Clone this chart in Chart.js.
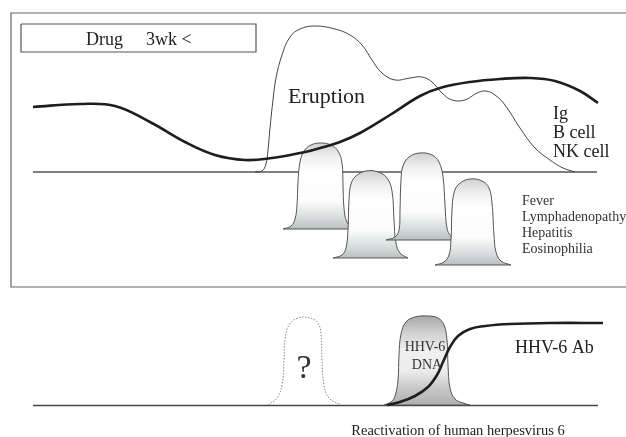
<!DOCTYPE html>
<html><head><meta charset="utf-8">
<script src="https://cdn.jsdelivr.net/npm/chart.js@4/dist/chart.umd.min.js"></script>
<style>html,body{margin:0;padding:0;background:#fff;overflow:hidden}canvas{display:block}</style>
</head><body>
<canvas id="c" width="626" height="437"></canvas>
<script>
// time (x) and level (y, measured downward on a 0..437 scale) for each schematic course
const frameLine = [[626,13],[11,13],[11,287],[626,287]];
const drugBox = [[21,24],[256,24],[256,52],[21,52],[21,24]];
const upperBaseline = [[33,172],[597,172]];
const lowerBaseline = [[33,405.5],[598,405.5]];
const igBcellNk = [[33,107],[80,104],[115,106],[150,122],[185,142],[215,155],[245,160],[272,158],[300,153],[320,148],[340,142],[360,133],[390,115],[420,96],[440,88],[470,82],[500,79],[530,78],[555,81],[580,91],[598,103]];
const eruption = [[255,172],[262,171],[266,164],[268,150],[270,128],[273,100],[276,78],[282,55],[290,37],[300,29],[315,26],[335,29],[350,35],[362,45],[372,60],[382,73],[395,80],[410,78],[422,77],[432,82],[442,93],[452,100],[465,100],[477,93],[486,91],[495,95],[505,105],[520,128],[535,148],[550,160],[563,168],[575,172]];
const symptomA = [[283,229],[291,226],[295,219],[297,205],[298,182],[300,162],[304,151],[311,145],[321,143],[331,145],[338,151],[342,163],[343,185],[344,208],[347,222],[354,228],[362,229]];
const symptomB = [[333,258],[342,255],[346,248],[348,230],[349,200],[351,184],[356,176],[366,171],[378,172],[387,178],[392,191],[394,220],[396,243],[400,253],[408,258]];
const symptomC = [[386,240],[395,237],[399,230],[400,210],[401,180],[403,166],[409,157],[420,153],[432,155],[439,162],[443,177],[445,205],[447,228],[451,236],[460,240]];
const symptomD = [[435,265],[444,262],[449,255],[451,240],[452,210],[454,193],[459,184],[470,179],[482,181],[489,188],[492,203],[494,235],[496,252],[501,261],[511,265]];
const unknownPeak = [[268,405],[277,398],[282,385],[284,360],[285,340],[289,325],[298,318],[310,318],[318,323],[321,335],[322,360],[324,385],[329,398],[341,405]];
const hhv6Dna = [[384,405],[391,402],[395,396],[398,380],[399,355],[401,334],[406,322],[415,317],[428,316],[438,318],[444,325],[447,340],[448,365],[450,388],[455,399],[463,403],[470,405]];
const hhv6Ab = [[387,405],[400,402],[415,396],[428,387],[437,375],[443,362],[450,347],[458,336],[470,329],[485,326],[510,324],[550,323],[603,323]];

const annotations = [
  {text:'Drug', x:86, y:45, size:18},
  {text:'3wk <', x:146, y:45, size:18},
  {text:'Eruption', x:288, y:103, size:22},
  {text:'Ig', x:553, y:119, size:18},
  {text:'B cell', x:553, y:138, size:18},
  {text:'NK cell', x:553, y:157, size:18},
  {text:'Fever', x:522, y:205, size:14, color:'#333'},
  {text:'Lymphadenopathy', x:522, y:221, size:14, color:'#333'},
  {text:'Hepatitis', x:522, y:237, size:14, color:'#333'},
  {text:'Eosinophilia', x:522, y:253, size:14, color:'#333'},
  {text:'?', x:304, y:378, size:34, align:'center', color:'#333'},
  {text:'HHV-6', x:425, y:351, size:14, align:'center', color:'#333'},
  {text:'DNA', x:427, y:369, size:14, align:'center', color:'#333'},
  {text:'HHV-6 Ab', x:515, y:353, size:18},
  {text:'Reactivation of human herpesvirus 6', x:458, y:435, size:14.5, align:'center'}
];

const toXY = a => a.map(([x,y]) => ({x,y}));
function line(arr, o){
  return Object.assign({data: toXY(arr), showLine:true, pointRadius:0, borderColor:'#555', borderWidth:1, tension:0, fill:false, clip:false}, o);
}
const symptomStops = [[0,'#d0d0d0'],[0.16,'#efefef'],[0.33,'#ffffff'],[0.68,'#fcfcfc'],[0.87,'#d8dcdc'],[1,'#b9bfbf']];
const dnaStops = [[0,'#a8a8a8'],[0.2,'#d2d2d2'],[0.4,'#f0f0f0'],[0.62,'#ececec'],[0.82,'#c6c6c6'],[1,'#b0b0b0']];
function bellFill(points, stops){
  const top = Math.min(...points.map(p=>p[1])), base = points[0][1];
  return (ctx) => {
    const chart = ctx.chart;
    if (!chart.chartArea) return 'rgba(0,0,0,0)';
    const ys = chart.scales.y;
    const g = chart.ctx.createLinearGradient(0, ys.getPixelForValue(top), 0, ys.getPixelForValue(base));
    stops.forEach(([o,c]) => g.addColorStop(o,c));
    return g;
  };
}
function bell(points, stops, order){
  return [
    line(points, {tension:0.4, borderColor:'#555', borderWidth:1, fill:{value:points[0][1]}, backgroundColor: bellFill(points, stops), order}),
    line([points[0], points[points.length-1]], {borderColor:'#555', borderWidth:1.2, order: order-0.1})
  ];
}

const textPlugin = {
  id:'texts',
  afterDatasetsDraw(chart){
    const {ctx, scales:{x, y}} = chart;
    ctx.save();
    annotations.forEach(a => {
      ctx.font = a.size + 'px "Liberation Serif", "Times New Roman", serif';
      ctx.fillStyle = a.color || '#222';
      ctx.textAlign = a.align || 'left';
      ctx.textBaseline = 'alphabetic';
      ctx.fillText(a.text, x.getPixelForValue(a.x), y.getPixelForValue(a.y));
    });
    ctx.restore();
  }
};

const datasets = [
  line(frameLine, {borderColor:'#666', borderWidth:1.2, order:20}),
  line(drugBox, {borderColor:'#555', borderWidth:1.2, order:20}),
  line(upperBaseline, {borderColor:'#555', borderWidth:1.3, order:19}),
  line(eruption, {tension:0.4, borderColor:'#444', borderWidth:1, order:18}),
  ...bell(symptomA, symptomStops, 12),
  ...bell(symptomB, symptomStops, 11),
  ...bell(symptomC, symptomStops, 10),
  ...bell(symptomD, symptomStops, 9),
  line(igBcellNk, {tension:0.4, borderColor:'#1e1e1e', borderWidth:2.6, order:1}),
  line(lowerBaseline, {borderColor:'#444', borderWidth:1.3, order:19}),
  line(unknownPeak, {tension:0.4, borderColor:'#888', borderWidth:1, borderDash:[1.5,1.5], order:15}),
  ...bell(hhv6Dna, dnaStops, 8),
  line(hhv6Ab, {tension:0.4, borderColor:'#1e1e1e', borderWidth:2.6, order:1})
];

new Chart(document.getElementById('c'), {
  type:'scatter',
  data:{datasets},
  options:{
    responsive:false, animation:false, devicePixelRatio:1, events:[],
    layout:{padding:0},
    scales:{
      x:{type:'linear', min:0, max:626, display:false},
      y:{type:'linear', min:0, max:437, reverse:true, display:false}
    },
    plugins:{legend:{display:false}, tooltip:{enabled:false}}
  },
  plugins:[textPlugin]
});
</script>
</body></html>
